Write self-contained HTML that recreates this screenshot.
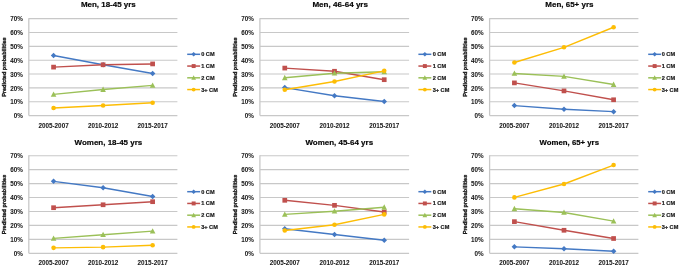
<!DOCTYPE html>
<html><head><meta charset="utf-8"><title>Predicted probabilities</title>
<style>
html,body{margin:0;padding:0;background:#fff;}
body{width:680px;height:267px;overflow:hidden;}
svg{display:block;filter:blur(0.45px);}
text{font-family:"Liberation Sans", sans-serif;font-weight:bold;fill:#1a1a1a;stroke:#1a1a1a;stroke-width:0.2px;}
.t{font-size:6.3px;stroke-width:0.05px;}
.ti{font-size:8.0px;fill:#000;}
.ya{font-size:5.6px;stroke-width:0.35px;}
.lg{font-size:5.6px;}
</style></head>
<body>
<svg width="680" height="267" viewBox="0 0 680 267">
<rect width="680" height="267" fill="#fff"/>
<line x1="28.80" y1="101.71" x2="177.40" y2="101.71" stroke="#C8C8C8" stroke-width="1.1"/>
<line x1="28.80" y1="87.87" x2="177.40" y2="87.87" stroke="#C8C8C8" stroke-width="1.1"/>
<line x1="28.80" y1="74.03" x2="177.40" y2="74.03" stroke="#C8C8C8" stroke-width="1.1"/>
<line x1="28.80" y1="60.19" x2="177.40" y2="60.19" stroke="#C8C8C8" stroke-width="1.1"/>
<line x1="28.80" y1="46.35" x2="177.40" y2="46.35" stroke="#C8C8C8" stroke-width="1.1"/>
<line x1="28.80" y1="32.51" x2="177.40" y2="32.51" stroke="#C8C8C8" stroke-width="1.1"/>
<line x1="28.80" y1="18.67" x2="177.40" y2="18.67" stroke="#C8C8C8" stroke-width="1.1"/>
<line x1="28.80" y1="18.17" x2="28.80" y2="115.55" stroke="#C8C8C8" stroke-width="1.3"/>
<line x1="28.80" y1="115.55" x2="177.40" y2="115.55" stroke="#C8C8C8" stroke-width="1.3"/>
<text x="22.80" y="118.25" text-anchor="end" class="t">0%</text>
<text x="22.80" y="104.41" text-anchor="end" class="t">10%</text>
<text x="22.80" y="90.57" text-anchor="end" class="t">20%</text>
<text x="22.80" y="76.73" text-anchor="end" class="t">30%</text>
<text x="22.80" y="62.89" text-anchor="end" class="t">40%</text>
<text x="22.80" y="49.05" text-anchor="end" class="t">50%</text>
<text x="22.80" y="35.21" text-anchor="end" class="t">60%</text>
<text x="22.80" y="21.37" text-anchor="end" class="t">70%</text>
<text transform="translate(5.90,67.11) rotate(-90)" x="0" y="0" text-anchor="middle" class="ya" textLength="59.5" lengthAdjust="spacingAndGlyphs">Predicted probabilities</text>
<text x="53.57" y="128.25" text-anchor="middle" class="t" textLength="30.2" lengthAdjust="spacingAndGlyphs">2005-2007</text>
<text x="103.10" y="128.25" text-anchor="middle" class="t" textLength="30.2" lengthAdjust="spacingAndGlyphs">2010-2012</text>
<text x="152.63" y="128.25" text-anchor="middle" class="t" textLength="30.2" lengthAdjust="spacingAndGlyphs">2015-2017</text>
<text x="80.90" y="7.30" class="ti" textLength="54.90" lengthAdjust="spacingAndGlyphs">Men, 18-45 yrs</text>
<polyline points="53.57,55.48 103.10,64.76 152.63,73.48" fill="none" stroke="#4479C4" stroke-width="1.4" stroke-linejoin="round"/>
<polyline points="53.57,67.11 103.10,64.76 152.63,63.93" fill="none" stroke="#C0504D" stroke-width="1.4" stroke-linejoin="round"/>
<polyline points="53.57,94.37 103.10,89.53 152.63,85.38" fill="none" stroke="#9BC058" stroke-width="1.4" stroke-linejoin="round"/>
<polyline points="53.57,107.94 103.10,105.45 152.63,102.68" fill="none" stroke="#FDBD05" stroke-width="1.4" stroke-linejoin="round"/>
<path d="M53.57 52.73L56.32 55.48L53.57 58.23L50.82 55.48Z" fill="#4479C4"/>
<path d="M103.10 62.01L105.85 64.76L103.10 67.51L100.35 64.76Z" fill="#4479C4"/>
<path d="M152.63 70.73L155.38 73.48L152.63 76.23L149.88 73.48Z" fill="#4479C4"/>
<rect x="51.22" y="64.76" width="4.70" height="4.70" fill="#C0504D"/>
<rect x="100.75" y="62.41" width="4.70" height="4.70" fill="#C0504D"/>
<rect x="150.28" y="61.58" width="4.70" height="4.70" fill="#C0504D"/>
<path d="M53.57 91.43L56.37 96.75L50.77 96.75Z" fill="#9BC058"/>
<path d="M103.10 86.59L105.90 91.91L100.30 91.91Z" fill="#9BC058"/>
<path d="M152.63 82.44L155.43 87.76L149.83 87.76Z" fill="#9BC058"/>
<circle cx="53.57" cy="107.94" r="2.30" fill="#FDBD05"/>
<circle cx="103.10" cy="105.45" r="2.30" fill="#FDBD05"/>
<circle cx="152.63" cy="102.68" r="2.30" fill="#FDBD05"/>
<line x1="187.20" y1="54.31" x2="200.10" y2="54.31" stroke="#4479C4" stroke-width="1.5"/>
<path d="M193.65 52.00L195.96 54.31L193.65 56.62L191.34 54.31Z" fill="#4479C4"/>
<text x="201.20" y="56.31" class="lg">0 CM</text>
<line x1="187.20" y1="66.06" x2="200.10" y2="66.06" stroke="#C0504D" stroke-width="1.5"/>
<rect x="191.68" y="64.09" width="3.95" height="3.95" fill="#C0504D"/>
<text x="201.20" y="68.06" class="lg">1 CM</text>
<line x1="187.20" y1="77.81" x2="200.10" y2="77.81" stroke="#9BC058" stroke-width="1.5"/>
<path d="M193.65 75.34L196.00 79.81L191.30 79.81Z" fill="#9BC058"/>
<text x="201.20" y="79.81" class="lg">2 CM</text>
<line x1="187.20" y1="89.56" x2="200.10" y2="89.56" stroke="#FDBD05" stroke-width="1.5"/>
<circle cx="193.65" cy="89.56" r="1.93" fill="#FDBD05"/>
<text x="201.20" y="91.56" class="lg">3+ CM</text>
<line x1="259.90" y1="101.71" x2="409.10" y2="101.71" stroke="#C8C8C8" stroke-width="1.1"/>
<line x1="259.90" y1="87.87" x2="409.10" y2="87.87" stroke="#C8C8C8" stroke-width="1.1"/>
<line x1="259.90" y1="74.03" x2="409.10" y2="74.03" stroke="#C8C8C8" stroke-width="1.1"/>
<line x1="259.90" y1="60.19" x2="409.10" y2="60.19" stroke="#C8C8C8" stroke-width="1.1"/>
<line x1="259.90" y1="46.35" x2="409.10" y2="46.35" stroke="#C8C8C8" stroke-width="1.1"/>
<line x1="259.90" y1="32.51" x2="409.10" y2="32.51" stroke="#C8C8C8" stroke-width="1.1"/>
<line x1="259.90" y1="18.67" x2="409.10" y2="18.67" stroke="#C8C8C8" stroke-width="1.1"/>
<line x1="259.90" y1="18.17" x2="259.90" y2="115.55" stroke="#C8C8C8" stroke-width="1.3"/>
<line x1="259.90" y1="115.55" x2="409.10" y2="115.55" stroke="#C8C8C8" stroke-width="1.3"/>
<text x="253.90" y="118.25" text-anchor="end" class="t">0%</text>
<text x="253.90" y="104.41" text-anchor="end" class="t">10%</text>
<text x="253.90" y="90.57" text-anchor="end" class="t">20%</text>
<text x="253.90" y="76.73" text-anchor="end" class="t">30%</text>
<text x="253.90" y="62.89" text-anchor="end" class="t">40%</text>
<text x="253.90" y="49.05" text-anchor="end" class="t">50%</text>
<text x="253.90" y="35.21" text-anchor="end" class="t">60%</text>
<text x="253.90" y="21.37" text-anchor="end" class="t">70%</text>
<text transform="translate(237.00,67.11) rotate(-90)" x="0" y="0" text-anchor="middle" class="ya" textLength="59.5" lengthAdjust="spacingAndGlyphs">Predicted probabilities</text>
<text x="284.77" y="128.25" text-anchor="middle" class="t" textLength="30.2" lengthAdjust="spacingAndGlyphs">2005-2007</text>
<text x="334.50" y="128.25" text-anchor="middle" class="t" textLength="30.2" lengthAdjust="spacingAndGlyphs">2010-2012</text>
<text x="384.23" y="128.25" text-anchor="middle" class="t" textLength="30.2" lengthAdjust="spacingAndGlyphs">2015-2017</text>
<text x="312.40" y="7.30" class="ti" textLength="55.60" lengthAdjust="spacingAndGlyphs">Men, 46-64 yrs</text>
<polyline points="284.77,87.59 334.50,95.76 384.23,101.57" fill="none" stroke="#4479C4" stroke-width="1.4" stroke-linejoin="round"/>
<polyline points="284.77,68.08 334.50,71.26 384.23,79.70" fill="none" stroke="#C0504D" stroke-width="1.4" stroke-linejoin="round"/>
<polyline points="284.77,77.77 334.50,73.20 384.23,71.82" fill="none" stroke="#9BC058" stroke-width="1.4" stroke-linejoin="round"/>
<polyline points="284.77,89.81 334.50,81.50 384.23,70.85" fill="none" stroke="#FDBD05" stroke-width="1.4" stroke-linejoin="round"/>
<path d="M284.77 84.84L287.52 87.59L284.77 90.34L282.02 87.59Z" fill="#4479C4"/>
<path d="M334.50 93.01L337.25 95.76L334.50 98.51L331.75 95.76Z" fill="#4479C4"/>
<path d="M384.23 98.82L386.98 101.57L384.23 104.32L381.48 101.57Z" fill="#4479C4"/>
<rect x="282.42" y="65.73" width="4.70" height="4.70" fill="#C0504D"/>
<rect x="332.15" y="68.91" width="4.70" height="4.70" fill="#C0504D"/>
<rect x="381.88" y="77.35" width="4.70" height="4.70" fill="#C0504D"/>
<path d="M284.77 74.83L287.57 80.15L281.97 80.15Z" fill="#9BC058"/>
<path d="M334.50 70.26L337.30 75.58L331.70 75.58Z" fill="#9BC058"/>
<path d="M384.23 68.88L387.03 74.20L381.43 74.20Z" fill="#9BC058"/>
<circle cx="284.77" cy="89.81" r="2.30" fill="#FDBD05"/>
<circle cx="334.50" cy="81.50" r="2.30" fill="#FDBD05"/>
<circle cx="384.23" cy="70.85" r="2.30" fill="#FDBD05"/>
<line x1="418.40" y1="54.31" x2="431.30" y2="54.31" stroke="#4479C4" stroke-width="1.5"/>
<path d="M424.85 52.00L427.16 54.31L424.85 56.62L422.54 54.31Z" fill="#4479C4"/>
<text x="432.70" y="56.31" class="lg">0 CM</text>
<line x1="418.40" y1="66.06" x2="431.30" y2="66.06" stroke="#C0504D" stroke-width="1.5"/>
<rect x="422.88" y="64.09" width="3.95" height="3.95" fill="#C0504D"/>
<text x="432.70" y="68.06" class="lg">1 CM</text>
<line x1="418.40" y1="77.81" x2="431.30" y2="77.81" stroke="#9BC058" stroke-width="1.5"/>
<path d="M424.85 75.34L427.20 79.81L422.50 79.81Z" fill="#9BC058"/>
<text x="432.70" y="79.81" class="lg">2 CM</text>
<line x1="418.40" y1="89.56" x2="431.30" y2="89.56" stroke="#FDBD05" stroke-width="1.5"/>
<circle cx="424.85" cy="89.56" r="1.93" fill="#FDBD05"/>
<text x="432.70" y="91.56" class="lg">3+ CM</text>
<line x1="489.60" y1="101.71" x2="638.40" y2="101.71" stroke="#C8C8C8" stroke-width="1.1"/>
<line x1="489.60" y1="87.87" x2="638.40" y2="87.87" stroke="#C8C8C8" stroke-width="1.1"/>
<line x1="489.60" y1="74.03" x2="638.40" y2="74.03" stroke="#C8C8C8" stroke-width="1.1"/>
<line x1="489.60" y1="60.19" x2="638.40" y2="60.19" stroke="#C8C8C8" stroke-width="1.1"/>
<line x1="489.60" y1="46.35" x2="638.40" y2="46.35" stroke="#C8C8C8" stroke-width="1.1"/>
<line x1="489.60" y1="32.51" x2="638.40" y2="32.51" stroke="#C8C8C8" stroke-width="1.1"/>
<line x1="489.60" y1="18.67" x2="638.40" y2="18.67" stroke="#C8C8C8" stroke-width="1.1"/>
<line x1="489.60" y1="18.17" x2="489.60" y2="115.55" stroke="#C8C8C8" stroke-width="1.3"/>
<line x1="489.60" y1="115.55" x2="638.40" y2="115.55" stroke="#C8C8C8" stroke-width="1.3"/>
<text x="483.60" y="118.25" text-anchor="end" class="t">0%</text>
<text x="483.60" y="104.41" text-anchor="end" class="t">10%</text>
<text x="483.60" y="90.57" text-anchor="end" class="t">20%</text>
<text x="483.60" y="76.73" text-anchor="end" class="t">30%</text>
<text x="483.60" y="62.89" text-anchor="end" class="t">40%</text>
<text x="483.60" y="49.05" text-anchor="end" class="t">50%</text>
<text x="483.60" y="35.21" text-anchor="end" class="t">60%</text>
<text x="483.60" y="21.37" text-anchor="end" class="t">70%</text>
<text transform="translate(466.70,67.11) rotate(-90)" x="0" y="0" text-anchor="middle" class="ya" textLength="59.5" lengthAdjust="spacingAndGlyphs">Predicted probabilities</text>
<text x="514.40" y="128.25" text-anchor="middle" class="t" textLength="30.2" lengthAdjust="spacingAndGlyphs">2005-2007</text>
<text x="564.00" y="128.25" text-anchor="middle" class="t" textLength="30.2" lengthAdjust="spacingAndGlyphs">2010-2012</text>
<text x="613.60" y="128.25" text-anchor="middle" class="t" textLength="30.2" lengthAdjust="spacingAndGlyphs">2015-2017</text>
<text x="545.30" y="7.30" class="ti" textLength="48.20" lengthAdjust="spacingAndGlyphs">Men, 65+ yrs</text>
<polyline points="514.40,105.59 564.00,109.18 613.60,111.67" fill="none" stroke="#4479C4" stroke-width="1.4" stroke-linejoin="round"/>
<polyline points="514.40,82.89 564.00,90.91 613.60,99.77" fill="none" stroke="#C0504D" stroke-width="1.4" stroke-linejoin="round"/>
<polyline points="514.40,73.48 564.00,76.38 613.60,84.55" fill="none" stroke="#9BC058" stroke-width="1.4" stroke-linejoin="round"/>
<polyline points="514.40,62.54 564.00,47.32 613.60,27.25" fill="none" stroke="#FDBD05" stroke-width="1.4" stroke-linejoin="round"/>
<path d="M514.40 102.84L517.15 105.59L514.40 108.34L511.65 105.59Z" fill="#4479C4"/>
<path d="M564.00 106.43L566.75 109.18L564.00 111.93L561.25 109.18Z" fill="#4479C4"/>
<path d="M613.60 108.92L616.35 111.67L613.60 114.42L610.85 111.67Z" fill="#4479C4"/>
<rect x="512.05" y="80.54" width="4.70" height="4.70" fill="#C0504D"/>
<rect x="561.65" y="88.56" width="4.70" height="4.70" fill="#C0504D"/>
<rect x="611.25" y="97.42" width="4.70" height="4.70" fill="#C0504D"/>
<path d="M514.40 70.54L517.20 75.86L511.60 75.86Z" fill="#9BC058"/>
<path d="M564.00 73.44L566.80 78.76L561.20 78.76Z" fill="#9BC058"/>
<path d="M613.60 81.61L616.40 86.93L610.80 86.93Z" fill="#9BC058"/>
<circle cx="514.40" cy="62.54" r="2.30" fill="#FDBD05"/>
<circle cx="564.00" cy="47.32" r="2.30" fill="#FDBD05"/>
<circle cx="613.60" cy="27.25" r="2.30" fill="#FDBD05"/>
<line x1="648.20" y1="54.31" x2="661.10" y2="54.31" stroke="#4479C4" stroke-width="1.5"/>
<path d="M654.65 52.00L656.96 54.31L654.65 56.62L652.34 54.31Z" fill="#4479C4"/>
<text x="661.70" y="56.31" class="lg">0 CM</text>
<line x1="648.20" y1="66.06" x2="661.10" y2="66.06" stroke="#C0504D" stroke-width="1.5"/>
<rect x="652.68" y="64.09" width="3.95" height="3.95" fill="#C0504D"/>
<text x="661.70" y="68.06" class="lg">1 CM</text>
<line x1="648.20" y1="77.81" x2="661.10" y2="77.81" stroke="#9BC058" stroke-width="1.5"/>
<path d="M654.65 75.34L657.00 79.81L652.30 79.81Z" fill="#9BC058"/>
<text x="661.70" y="79.81" class="lg">2 CM</text>
<line x1="648.20" y1="89.56" x2="661.10" y2="89.56" stroke="#FDBD05" stroke-width="1.5"/>
<circle cx="654.65" cy="89.56" r="1.93" fill="#FDBD05"/>
<text x="661.70" y="91.56" class="lg">3+ CM</text>
<line x1="28.80" y1="239.34" x2="177.40" y2="239.34" stroke="#C8C8C8" stroke-width="1.1"/>
<line x1="28.80" y1="225.40" x2="177.40" y2="225.40" stroke="#C8C8C8" stroke-width="1.1"/>
<line x1="28.80" y1="211.46" x2="177.40" y2="211.46" stroke="#C8C8C8" stroke-width="1.1"/>
<line x1="28.80" y1="197.52" x2="177.40" y2="197.52" stroke="#C8C8C8" stroke-width="1.1"/>
<line x1="28.80" y1="183.58" x2="177.40" y2="183.58" stroke="#C8C8C8" stroke-width="1.1"/>
<line x1="28.80" y1="169.64" x2="177.40" y2="169.64" stroke="#C8C8C8" stroke-width="1.1"/>
<line x1="28.80" y1="155.70" x2="177.40" y2="155.70" stroke="#C8C8C8" stroke-width="1.1"/>
<line x1="28.80" y1="155.20" x2="28.80" y2="253.28" stroke="#C8C8C8" stroke-width="1.3"/>
<line x1="28.80" y1="253.28" x2="177.40" y2="253.28" stroke="#C8C8C8" stroke-width="1.3"/>
<text x="22.80" y="255.98" text-anchor="end" class="t">0%</text>
<text x="22.80" y="242.04" text-anchor="end" class="t">10%</text>
<text x="22.80" y="228.10" text-anchor="end" class="t">20%</text>
<text x="22.80" y="214.16" text-anchor="end" class="t">30%</text>
<text x="22.80" y="200.22" text-anchor="end" class="t">40%</text>
<text x="22.80" y="186.28" text-anchor="end" class="t">50%</text>
<text x="22.80" y="172.34" text-anchor="end" class="t">60%</text>
<text x="22.80" y="158.40" text-anchor="end" class="t">70%</text>
<text transform="translate(5.90,204.49) rotate(-90)" x="0" y="0" text-anchor="middle" class="ya" textLength="59.5" lengthAdjust="spacingAndGlyphs">Predicted probabilities</text>
<text x="53.57" y="265.18" text-anchor="middle" class="t" textLength="30.2" lengthAdjust="spacingAndGlyphs">2005-2007</text>
<text x="103.10" y="265.18" text-anchor="middle" class="t" textLength="30.2" lengthAdjust="spacingAndGlyphs">2010-2012</text>
<text x="152.63" y="265.18" text-anchor="middle" class="t" textLength="30.2" lengthAdjust="spacingAndGlyphs">2015-2017</text>
<text x="74.60" y="145.30" class="ti" textLength="67.60" lengthAdjust="spacingAndGlyphs">Women, 18-45 yrs</text>
<polyline points="53.57,181.35 103.10,187.76 152.63,196.54" fill="none" stroke="#4479C4" stroke-width="1.4" stroke-linejoin="round"/>
<polyline points="53.57,207.70 103.10,204.77 152.63,201.70" fill="none" stroke="#C0504D" stroke-width="1.4" stroke-linejoin="round"/>
<polyline points="53.57,238.36 103.10,234.74 152.63,231.12" fill="none" stroke="#9BC058" stroke-width="1.4" stroke-linejoin="round"/>
<polyline points="53.57,247.84 103.10,247.15 152.63,245.19" fill="none" stroke="#FDBD05" stroke-width="1.4" stroke-linejoin="round"/>
<path d="M53.57 178.60L56.32 181.35L53.57 184.10L50.82 181.35Z" fill="#4479C4"/>
<path d="M103.10 185.01L105.85 187.76L103.10 190.51L100.35 187.76Z" fill="#4479C4"/>
<path d="M152.63 193.79L155.38 196.54L152.63 199.29L149.88 196.54Z" fill="#4479C4"/>
<rect x="51.22" y="205.35" width="4.70" height="4.70" fill="#C0504D"/>
<rect x="100.75" y="202.42" width="4.70" height="4.70" fill="#C0504D"/>
<rect x="150.28" y="199.35" width="4.70" height="4.70" fill="#C0504D"/>
<path d="M53.57 235.42L56.37 240.74L50.77 240.74Z" fill="#9BC058"/>
<path d="M103.10 231.80L105.90 237.12L100.30 237.12Z" fill="#9BC058"/>
<path d="M152.63 228.18L155.43 233.50L149.83 233.50Z" fill="#9BC058"/>
<circle cx="53.57" cy="247.84" r="2.30" fill="#FDBD05"/>
<circle cx="103.10" cy="247.15" r="2.30" fill="#FDBD05"/>
<circle cx="152.63" cy="245.19" r="2.30" fill="#FDBD05"/>
<line x1="187.20" y1="191.69" x2="200.10" y2="191.69" stroke="#4479C4" stroke-width="1.5"/>
<path d="M193.65 189.38L195.96 191.69L193.65 194.00L191.34 191.69Z" fill="#4479C4"/>
<text x="201.20" y="193.69" class="lg">0 CM</text>
<line x1="187.20" y1="203.44" x2="200.10" y2="203.44" stroke="#C0504D" stroke-width="1.5"/>
<rect x="191.68" y="201.47" width="3.95" height="3.95" fill="#C0504D"/>
<text x="201.20" y="205.44" class="lg">1 CM</text>
<line x1="187.20" y1="215.19" x2="200.10" y2="215.19" stroke="#9BC058" stroke-width="1.5"/>
<path d="M193.65 212.72L196.00 217.19L191.30 217.19Z" fill="#9BC058"/>
<text x="201.20" y="217.19" class="lg">2 CM</text>
<line x1="187.20" y1="226.94" x2="200.10" y2="226.94" stroke="#FDBD05" stroke-width="1.5"/>
<circle cx="193.65" cy="226.94" r="1.93" fill="#FDBD05"/>
<text x="201.20" y="228.94" class="lg">3+ CM</text>
<line x1="259.90" y1="239.34" x2="409.10" y2="239.34" stroke="#C8C8C8" stroke-width="1.1"/>
<line x1="259.90" y1="225.40" x2="409.10" y2="225.40" stroke="#C8C8C8" stroke-width="1.1"/>
<line x1="259.90" y1="211.46" x2="409.10" y2="211.46" stroke="#C8C8C8" stroke-width="1.1"/>
<line x1="259.90" y1="197.52" x2="409.10" y2="197.52" stroke="#C8C8C8" stroke-width="1.1"/>
<line x1="259.90" y1="183.58" x2="409.10" y2="183.58" stroke="#C8C8C8" stroke-width="1.1"/>
<line x1="259.90" y1="169.64" x2="409.10" y2="169.64" stroke="#C8C8C8" stroke-width="1.1"/>
<line x1="259.90" y1="155.70" x2="409.10" y2="155.70" stroke="#C8C8C8" stroke-width="1.1"/>
<line x1="259.90" y1="155.20" x2="259.90" y2="253.28" stroke="#C8C8C8" stroke-width="1.3"/>
<line x1="259.90" y1="253.28" x2="409.10" y2="253.28" stroke="#C8C8C8" stroke-width="1.3"/>
<text x="253.90" y="255.98" text-anchor="end" class="t">0%</text>
<text x="253.90" y="242.04" text-anchor="end" class="t">10%</text>
<text x="253.90" y="228.10" text-anchor="end" class="t">20%</text>
<text x="253.90" y="214.16" text-anchor="end" class="t">30%</text>
<text x="253.90" y="200.22" text-anchor="end" class="t">40%</text>
<text x="253.90" y="186.28" text-anchor="end" class="t">50%</text>
<text x="253.90" y="172.34" text-anchor="end" class="t">60%</text>
<text x="253.90" y="158.40" text-anchor="end" class="t">70%</text>
<text transform="translate(237.00,204.49) rotate(-90)" x="0" y="0" text-anchor="middle" class="ya" textLength="59.5" lengthAdjust="spacingAndGlyphs">Predicted probabilities</text>
<text x="284.77" y="265.18" text-anchor="middle" class="t" textLength="30.2" lengthAdjust="spacingAndGlyphs">2005-2007</text>
<text x="334.50" y="265.18" text-anchor="middle" class="t" textLength="30.2" lengthAdjust="spacingAndGlyphs">2010-2012</text>
<text x="384.23" y="265.18" text-anchor="middle" class="t" textLength="30.2" lengthAdjust="spacingAndGlyphs">2015-2017</text>
<text x="305.40" y="145.30" class="ti" textLength="67.70" lengthAdjust="spacingAndGlyphs">Women, 45-64 yrs</text>
<polyline points="284.77,228.75 334.50,234.46 384.23,240.32" fill="none" stroke="#4479C4" stroke-width="1.4" stroke-linejoin="round"/>
<polyline points="284.77,200.31 334.50,205.33 384.23,212.02" fill="none" stroke="#C0504D" stroke-width="1.4" stroke-linejoin="round"/>
<polyline points="284.77,214.39 334.50,211.18 384.23,207.28" fill="none" stroke="#9BC058" stroke-width="1.4" stroke-linejoin="round"/>
<polyline points="284.77,230.56 334.50,224.70 384.23,214.39" fill="none" stroke="#FDBD05" stroke-width="1.4" stroke-linejoin="round"/>
<path d="M284.77 226.00L287.52 228.75L284.77 231.50L282.02 228.75Z" fill="#4479C4"/>
<path d="M334.50 231.71L337.25 234.46L334.50 237.21L331.75 234.46Z" fill="#4479C4"/>
<path d="M384.23 237.57L386.98 240.32L384.23 243.07L381.48 240.32Z" fill="#4479C4"/>
<rect x="282.42" y="197.96" width="4.70" height="4.70" fill="#C0504D"/>
<rect x="332.15" y="202.98" width="4.70" height="4.70" fill="#C0504D"/>
<rect x="381.88" y="209.67" width="4.70" height="4.70" fill="#C0504D"/>
<path d="M284.77 211.45L287.57 216.77L281.97 216.77Z" fill="#9BC058"/>
<path d="M334.50 208.24L337.30 213.56L331.70 213.56Z" fill="#9BC058"/>
<path d="M384.23 204.34L387.03 209.66L381.43 209.66Z" fill="#9BC058"/>
<circle cx="284.77" cy="230.56" r="2.30" fill="#FDBD05"/>
<circle cx="334.50" cy="224.70" r="2.30" fill="#FDBD05"/>
<circle cx="384.23" cy="214.39" r="2.30" fill="#FDBD05"/>
<line x1="418.40" y1="191.69" x2="431.30" y2="191.69" stroke="#4479C4" stroke-width="1.5"/>
<path d="M424.85 189.38L427.16 191.69L424.85 194.00L422.54 191.69Z" fill="#4479C4"/>
<text x="432.70" y="193.69" class="lg">0 CM</text>
<line x1="418.40" y1="203.44" x2="431.30" y2="203.44" stroke="#C0504D" stroke-width="1.5"/>
<rect x="422.88" y="201.47" width="3.95" height="3.95" fill="#C0504D"/>
<text x="432.70" y="205.44" class="lg">1 CM</text>
<line x1="418.40" y1="215.19" x2="431.30" y2="215.19" stroke="#9BC058" stroke-width="1.5"/>
<path d="M424.85 212.72L427.20 217.19L422.50 217.19Z" fill="#9BC058"/>
<text x="432.70" y="217.19" class="lg">2 CM</text>
<line x1="418.40" y1="226.94" x2="431.30" y2="226.94" stroke="#FDBD05" stroke-width="1.5"/>
<circle cx="424.85" cy="226.94" r="1.93" fill="#FDBD05"/>
<text x="432.70" y="228.94" class="lg">3+ CM</text>
<line x1="489.60" y1="239.34" x2="638.40" y2="239.34" stroke="#C8C8C8" stroke-width="1.1"/>
<line x1="489.60" y1="225.40" x2="638.40" y2="225.40" stroke="#C8C8C8" stroke-width="1.1"/>
<line x1="489.60" y1="211.46" x2="638.40" y2="211.46" stroke="#C8C8C8" stroke-width="1.1"/>
<line x1="489.60" y1="197.52" x2="638.40" y2="197.52" stroke="#C8C8C8" stroke-width="1.1"/>
<line x1="489.60" y1="183.58" x2="638.40" y2="183.58" stroke="#C8C8C8" stroke-width="1.1"/>
<line x1="489.60" y1="169.64" x2="638.40" y2="169.64" stroke="#C8C8C8" stroke-width="1.1"/>
<line x1="489.60" y1="155.70" x2="638.40" y2="155.70" stroke="#C8C8C8" stroke-width="1.1"/>
<line x1="489.60" y1="155.20" x2="489.60" y2="253.28" stroke="#C8C8C8" stroke-width="1.3"/>
<line x1="489.60" y1="253.28" x2="638.40" y2="253.28" stroke="#C8C8C8" stroke-width="1.3"/>
<text x="483.60" y="255.98" text-anchor="end" class="t">0%</text>
<text x="483.60" y="242.04" text-anchor="end" class="t">10%</text>
<text x="483.60" y="228.10" text-anchor="end" class="t">20%</text>
<text x="483.60" y="214.16" text-anchor="end" class="t">30%</text>
<text x="483.60" y="200.22" text-anchor="end" class="t">40%</text>
<text x="483.60" y="186.28" text-anchor="end" class="t">50%</text>
<text x="483.60" y="172.34" text-anchor="end" class="t">60%</text>
<text x="483.60" y="158.40" text-anchor="end" class="t">70%</text>
<text transform="translate(466.70,204.49) rotate(-90)" x="0" y="0" text-anchor="middle" class="ya" textLength="59.5" lengthAdjust="spacingAndGlyphs">Predicted probabilities</text>
<text x="514.40" y="265.18" text-anchor="middle" class="t" textLength="30.2" lengthAdjust="spacingAndGlyphs">2005-2007</text>
<text x="564.00" y="265.18" text-anchor="middle" class="t" textLength="30.2" lengthAdjust="spacingAndGlyphs">2010-2012</text>
<text x="613.60" y="265.18" text-anchor="middle" class="t" textLength="30.2" lengthAdjust="spacingAndGlyphs">2015-2017</text>
<text x="539.60" y="145.30" class="ti" textLength="59.40" lengthAdjust="spacingAndGlyphs">Women, 65+ yrs</text>
<polyline points="514.40,246.87 564.00,248.82 613.60,251.19" fill="none" stroke="#4479C4" stroke-width="1.4" stroke-linejoin="round"/>
<polyline points="514.40,221.64 564.00,230.28 613.60,238.50" fill="none" stroke="#C0504D" stroke-width="1.4" stroke-linejoin="round"/>
<polyline points="514.40,208.81 564.00,212.44 613.60,221.08" fill="none" stroke="#9BC058" stroke-width="1.4" stroke-linejoin="round"/>
<polyline points="514.40,197.38 564.00,184.00 613.60,165.04" fill="none" stroke="#FDBD05" stroke-width="1.4" stroke-linejoin="round"/>
<path d="M514.40 244.12L517.15 246.87L514.40 249.62L511.65 246.87Z" fill="#4479C4"/>
<path d="M564.00 246.07L566.75 248.82L564.00 251.57L561.25 248.82Z" fill="#4479C4"/>
<path d="M613.60 248.44L616.35 251.19L613.60 253.94L610.85 251.19Z" fill="#4479C4"/>
<rect x="512.05" y="219.29" width="4.70" height="4.70" fill="#C0504D"/>
<rect x="561.65" y="227.93" width="4.70" height="4.70" fill="#C0504D"/>
<rect x="611.25" y="236.15" width="4.70" height="4.70" fill="#C0504D"/>
<path d="M514.40 205.87L517.20 211.19L511.60 211.19Z" fill="#9BC058"/>
<path d="M564.00 209.50L566.80 214.82L561.20 214.82Z" fill="#9BC058"/>
<path d="M613.60 218.14L616.40 223.46L610.80 223.46Z" fill="#9BC058"/>
<circle cx="514.40" cy="197.38" r="2.30" fill="#FDBD05"/>
<circle cx="564.00" cy="184.00" r="2.30" fill="#FDBD05"/>
<circle cx="613.60" cy="165.04" r="2.30" fill="#FDBD05"/>
<line x1="648.20" y1="191.69" x2="661.10" y2="191.69" stroke="#4479C4" stroke-width="1.5"/>
<path d="M654.65 189.38L656.96 191.69L654.65 194.00L652.34 191.69Z" fill="#4479C4"/>
<text x="661.70" y="193.69" class="lg">0 CM</text>
<line x1="648.20" y1="203.44" x2="661.10" y2="203.44" stroke="#C0504D" stroke-width="1.5"/>
<rect x="652.68" y="201.47" width="3.95" height="3.95" fill="#C0504D"/>
<text x="661.70" y="205.44" class="lg">1 CM</text>
<line x1="648.20" y1="215.19" x2="661.10" y2="215.19" stroke="#9BC058" stroke-width="1.5"/>
<path d="M654.65 212.72L657.00 217.19L652.30 217.19Z" fill="#9BC058"/>
<text x="661.70" y="217.19" class="lg">2 CM</text>
<line x1="648.20" y1="226.94" x2="661.10" y2="226.94" stroke="#FDBD05" stroke-width="1.5"/>
<circle cx="654.65" cy="226.94" r="1.93" fill="#FDBD05"/>
<text x="661.70" y="228.94" class="lg">3+ CM</text>
</svg>
</body></html>
